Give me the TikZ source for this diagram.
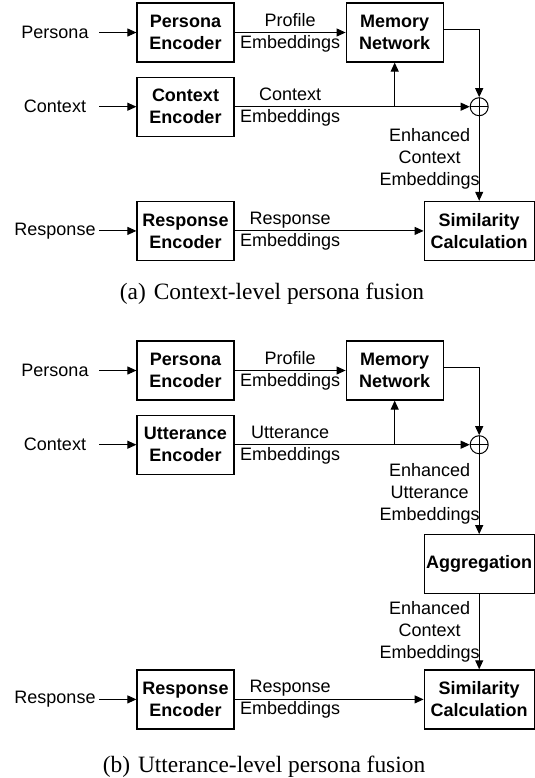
\documentclass[tikz,border=0pt]{standalone}
\usepackage{fontspec}
\setmainfont{Liberation Serif}
\setsansfont{Liberation Sans}
\usetikzlibrary{positioning, arrows.meta}

\begin{document}
\begin{tikzpicture}[
            node distance=7pt and 55.5pt,
            >={Triangle[length=4.5pt, width=4pt]},
            box/.style={rectangle, draw, line width=0.6pt, minimum height=29.5pt, align=center,
                    font=\sffamily\bfseries\fontsize{9}{11}\selectfont, inner sep=2pt},
            encbox/.style={box, minimum width=48.5pt},
            outbox/.style={box, minimum width=55pt, inner xsep=1pt},
            inlbl/.style={minimum width=44pt, inner sep=0pt, font=\sffamily\fontsize{9}{11}\selectfont},
            elbl/.style={align=center, inner sep=0pt, font=\sffamily\fontsize{9}{11}\selectfont},
            vlbl/.style={elbl, left, xshift=0.5pt},
            oplus/.style={circle, draw, line width=0.5pt, inner sep=0pt, minimum size=9pt,
                    path picture={\draw[line width=0.5pt] (path picture bounding box.north) -- (path picture bounding box.south)
                        (path picture bounding box.west) -- (path picture bounding box.east);}},
            arrow/.style={->, line width=0.5pt},
            caption/.style={font=\fontsize{11.7}{14}\selectfont},
            ]
            \useasboundingbox (0,0) rectangle (267.5pt,-389pt);

            % (a) context-level fusion
            \node[encbox] (penca) at (92.75pt,-16.25pt) {Persona\\Encoder};
            \node[encbox, below=of penca] (cenca) {Context\\Encoder};
            \node[encbox, below=32pt of cenca] (renca) {Response\\Encoder};
            \node[encbox, right=of penca] (mema) {Memory\\Network};
            \node[outbox, right=94.5pt of renca] (sima) {Similarity\\Calculation};
            \node[oplus] (opa) at (cenca -| sima) {};

            \node[inlbl, left=18.5pt of penca] (pina) {Persona};
            \node[inlbl, left=18.5pt of cenca] (cina) {Context};
            \node[inlbl, left=18.5pt of renca] (rina) {Response};
            \draw[arrow] (pina) -- (penca);
            \draw[arrow] (cina) -- (cenca);
            \draw[arrow] (rina) -- (renca);

            \draw[arrow] (penca) -- node[elbl] {Profile\\Embeddings} (mema);
            \draw[arrow] (cenca) -- node[elbl] {Context\\Embeddings} (cenca -| mema.west) -- (opa);
            \draw[arrow] (cenca -| mema.south) -- (mema.south);
            \draw[arrow] ([yshift=1.5pt]mema.east) -| (opa);
            \draw[arrow] (opa) -- node[vlbl] {Enhanced\\Context\\Embeddings} (sima);
            \draw[arrow] (renca) -- node[elbl] {Response\\Embeddings} (renca -| mema.west) -- (sima);

            \node[caption] (capa) at (136pt,-147pt) {(a)\hspace{4pt}Context-level persona fusion};

            % (b) utterance-level fusion
            \node[encbox] (pencb) at (92.75pt,-185.25pt) {Persona\\Encoder};
            \node[encbox, below=of pencb] (uencb) {Utterance\\Encoder};
            \node[encbox, below=97.25pt of uencb] (rencb) {Response\\Encoder};
            \node[encbox, right=of pencb] (memb) {Memory\\Network};
            \node[outbox, right=94.5pt of rencb] (simb) {Similarity\\Calculation};
            \node[outbox, above=37.5pt of simb] (aggb) {Aggregation};
            \node[oplus] (opb) at (uencb -| simb) {};

            \node[inlbl, left=18.5pt of pencb] (pinb) {Persona};
            \node[inlbl, left=18.5pt of uencb] (cinb) {Context};
            \node[inlbl, left=18.5pt of rencb] (rinb) {Response};
            \draw[arrow] (pinb) -- (pencb);
            \draw[arrow] (cinb) -- (uencb);
            \draw[arrow] (rinb) -- (rencb);

            \draw[arrow] (pencb) -- node[elbl] {Profile\\Embeddings} (memb);
            \draw[arrow] (uencb) -- node[elbl] {Utterance\\Embeddings} (uencb -| memb.west) -- (opb);
            \draw[arrow] (uencb -| memb.south) -- (memb.south);
            \draw[arrow] ([yshift=1.5pt]memb.east) -| (opb);
            \draw[arrow] (opb) -- node[vlbl] {Enhanced\\Utterance\\Embeddings} (aggb);
            \draw[arrow] (aggb) -- node[vlbl] {Enhanced\\Context\\Embeddings} (simb);
            \draw[arrow] (rencb) -- node[elbl] {Response\\Embeddings} (rencb -| memb.west) -- (simb);

            \node[caption] (capb) at (132pt,-383.5pt) {(b)\hspace{4pt}Utterance-level persona fusion};

        \end{tikzpicture}
\end{document}
